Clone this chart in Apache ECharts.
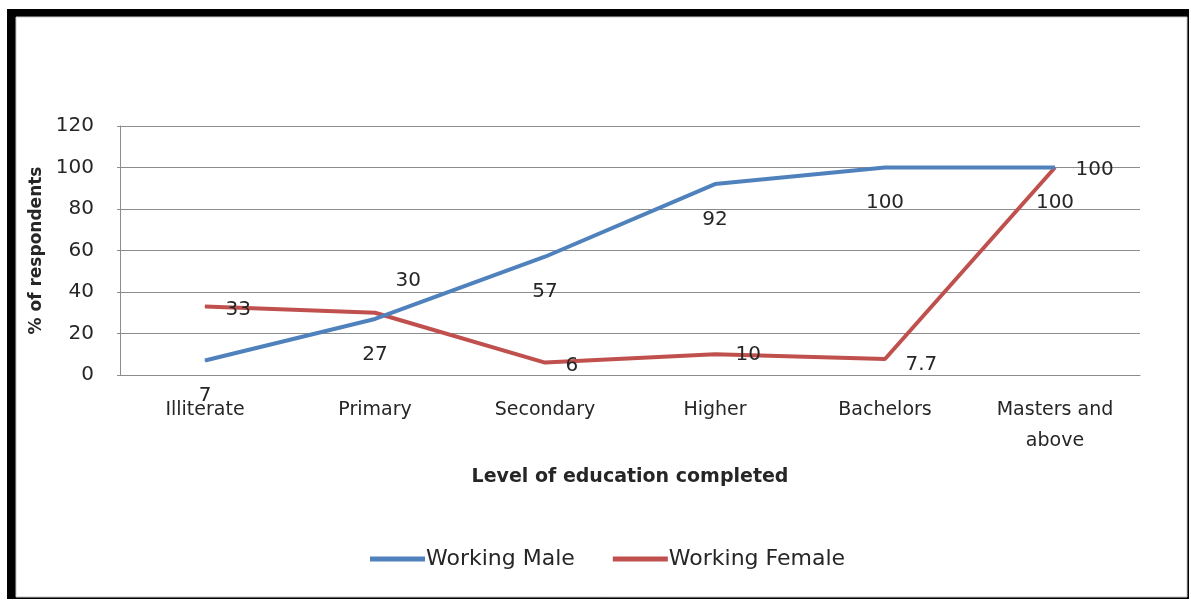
<!DOCTYPE html>
<html>
<head>
<meta charset="utf-8">
<script src="https://cdn.jsdelivr.net/npm/echarts@6/dist/echarts.min.js"></script>
<style>
  html, body { margin: 0; padding: 0; background: #ffffff; }
  #chart { width: 1191px; height: 601px; }
</style>
</head>
<body>
<div id="chart"></div>
<script>
// Employment rate by level of education completed
const categories = ['Illiterate', 'Primary', 'Secondary', 'Higher', 'Bachelors', 'Masters and\nabove'];
const workingMale = [7, 27, 57, 92, 100, 100];
const workingFemale = [33, 30, 6, 10, 7.7, 100];
const yTicks = { min: 0, max: 120, interval: 20 };

const FONT = '"DejaVu Sans", "Open Sans", sans-serif';
const TEXT = '#262626';
const BLUE = '#4f81bd';
const RED = '#c0504d';

// Female labels sit to the right of each point; one is lifted above the crossing
const femaleLabelOffsets = [[0, 3], [0, -32], [0, 3], [0, 1], [0, 6], [0, 2]];

const chart = echarts.init(document.getElementById('chart'), null, { renderer: 'canvas' });

chart.setOption({
  backgroundColor: '#ffffff',
  animation: false,
  graphic: [
    // outer frame: heavy left/top edges, thin right/bottom edges
    { type: 'rect', shape: { x: 7, y: 9, width: 1182, height: 590 },
      style: { fill: '#000000' }, z: -10 },
    { type: 'rect', shape: { x: 16, y: 17, width: 1171, height: 580 },
      style: { fill: '#ffffff', stroke: '#c8c8c8', lineWidth: 1 }, z: -9 }
  ],
  grid: { left: 120, right: 51, top: 126, bottom: 226, containLabel: false },
  legend: {
    bottom: 26,
    left: 365,
    itemWidth: 55,
    itemHeight: 5,
    itemGap: 38,
    icon: 'rect',
    textStyle: { fontFamily: FONT, fontSize: 22, color: TEXT, padding: [0, 0, 0, -4] },
    data: [
      { name: 'Working Male', itemStyle: { color: BLUE } },
      { name: 'Working Female', itemStyle: { color: RED } }
    ]
  },
  xAxis: {
    type: 'category',
    data: categories,
    boundaryGap: true,
    name: 'Level of education completed',
    nameLocation: 'middle',
    nameGap: 93,
    nameTextStyle: { fontFamily: FONT, fontSize: 19, fontWeight: 'bold', color: TEXT },
    axisLine: { show: true, lineStyle: { color: '#8c8c8c', width: 1 } },
    axisTick: { show: false },
    axisLabel: { fontFamily: FONT, fontSize: 19, color: TEXT, margin: 20, lineHeight: 31 }
  },
  yAxis: {
    type: 'value',
    min: yTicks.min,
    max: yTicks.max,
    interval: yTicks.interval,
    name: '% of respondents',
    nameLocation: 'middle',
    nameGap: 74,
    nameTextStyle: { fontFamily: FONT, fontSize: 17, fontWeight: 'bold', color: TEXT },
    axisLine: { show: true, lineStyle: { color: '#8c8c8c', width: 1 } },
    axisTick: { show: true, length: 3, lineStyle: { color: '#8c8c8c' } },
    axisLabel: { fontFamily: FONT, fontSize: 20, color: TEXT, margin: 26 },
    splitLine: { show: true, lineStyle: { color: '#8c8c8c', width: 1 } }
  },
  series: [
    {
      name: 'Working Male',
      type: 'line',
      data: workingMale,
      symbol: 'circle',
      symbolSize: 1,
      itemStyle: { color: BLUE },
      lineStyle: { width: 4, color: BLUE },
      label: {
        show: true,
        position: 'bottom',
        distance: 25,
        fontFamily: FONT,
        fontSize: 20,
        color: TEXT
      },
      z: 3
    },
    {
      name: 'Working Female',
      type: 'line',
      data: workingFemale.map((v, i) => ({
        value: v,
        label: { offset: femaleLabelOffsets[i] }
      })),
      symbol: 'circle',
      symbolSize: 1,
      itemStyle: { color: RED },
      lineStyle: { width: 4, color: RED },
      label: {
        show: true,
        position: 'right',
        distance: 20,
        fontFamily: FONT,
        fontSize: 20,
        color: TEXT
      },
      z: 2
    }
  ]
});
</script>
</body>
</html>
